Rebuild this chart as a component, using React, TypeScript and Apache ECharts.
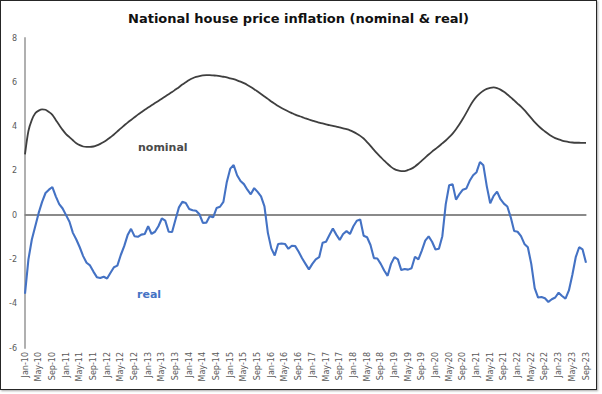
import React, { useEffect, useRef } from "react";
import * as echarts from "echarts";

const MONTHS = ["Jan", "Feb", "Mar", "Apr", "May", "Jun", "Jul", "Aug", "Sep", "Oct", "Nov", "Dec"];
const YEARS = [10, 11, 12, 13, 14, 15, 16, 17, 18, 19, 20, 21, 22, 23];
const LAST_MONTH_2023 = 9;

const categories: string[] = [];
YEARS.forEach((y) => {
  MONTHS.forEach((m, i) => {
    if (y === 23 && i >= LAST_MONTH_2023) return;
    categories.push(`${m}-${y}`);
  });
});

const nominal = [
  2.74, 3.8, 4.3, 4.6, 4.72, 4.78, 4.76, 4.66, 4.53, 4.3, 4.07, 3.85,
  3.66, 3.52, 3.38, 3.25, 3.16, 3.1, 3.08, 3.08, 3.1, 3.15, 3.22, 3.3,
  3.4, 3.52, 3.64, 3.78, 3.92, 4.05, 4.18, 4.3, 4.42, 4.54, 4.65, 4.76,
  4.86, 4.96, 5.06, 5.16, 5.26, 5.36, 5.46, 5.56, 5.67, 5.78, 5.9, 6.0,
  6.1, 6.18, 6.24, 6.28, 6.31, 6.32, 6.32, 6.31, 6.3, 6.28, 6.25, 6.22,
  6.18, 6.14, 6.09, 6.03, 5.96, 5.88, 5.79, 5.69, 5.58, 5.47, 5.36, 5.25,
  5.13, 5.03, 4.93, 4.84, 4.76, 4.68, 4.61, 4.54, 4.48, 4.43, 4.37, 4.32,
  4.27, 4.22, 4.18, 4.14, 4.1, 4.06, 4.03, 4.0, 3.96, 3.92, 3.88, 3.83,
  3.76, 3.68, 3.58, 3.46, 3.3, 3.13, 2.95, 2.78, 2.62, 2.46, 2.32, 2.18,
  2.08, 2.02, 1.99, 1.99, 2.04, 2.1, 2.2, 2.32, 2.46, 2.6, 2.74, 2.87,
  2.99, 3.11, 3.24, 3.37, 3.52, 3.68, 3.88, 4.1, 4.35, 4.62, 4.9, 5.15,
  5.35, 5.5, 5.62, 5.7, 5.75, 5.77, 5.74, 5.67, 5.57, 5.45, 5.32, 5.18,
  5.04, 4.9, 4.74, 4.56, 4.38, 4.2, 4.04, 3.9, 3.78, 3.66, 3.56, 3.48,
  3.42, 3.37, 3.33, 3.3, 3.28, 3.27, 3.27, 3.26, 3.26,
];

const real = [
  -3.55, -2.0, -1.1, -0.5, 0.1, 0.6, 1.0, 1.15, 1.27, 0.85, 0.5, 0.3,
  0.0, -0.3, -0.8, -1.1, -1.45, -1.85, -2.15, -2.27, -2.55, -2.8, -2.84, -2.78,
  -2.86, -2.6, -2.35, -2.28, -1.8, -1.4, -0.9, -0.62, -0.95, -0.98, -0.88, -0.85,
  -0.5, -0.85, -0.75, -0.5, -0.15, -0.25, -0.75, -0.76, -0.2, 0.35, 0.6, 0.55,
  0.28, 0.22, 0.2, 0.04, -0.35, -0.34, -0.05, -0.1, 0.32, 0.38, 0.6, 1.5,
  2.1, 2.26, 1.8, 1.54, 1.4, 1.15, 0.94, 1.22, 1.05, 0.85, 0.4, -0.8,
  -1.5, -1.82, -1.3, -1.28, -1.3, -1.52, -1.38, -1.4, -1.65, -1.95, -2.2, -2.45,
  -2.2, -2.0, -1.9, -1.25, -1.2, -0.9, -0.6, -0.88, -1.12, -0.85, -0.72, -0.85,
  -0.5, -0.25, -0.2, -0.93, -1.0, -1.35, -1.94, -1.96, -2.2, -2.5, -2.74, -2.2,
  -1.9, -2.0, -2.48, -2.43, -2.46, -2.4, -1.88, -2.0, -1.6, -1.15, -0.96, -1.2,
  -1.55, -1.52, -0.95, 0.5, 1.35, 1.4, 0.7, 0.95, 1.15, 1.2, 1.55, 1.8,
  1.94, 2.4, 2.25, 1.3, 0.54, 0.87, 1.06, 0.72, 0.52, 0.39, -0.1, -0.72,
  -0.75, -0.95, -1.3, -1.45, -2.2, -3.3, -3.72, -3.7, -3.75, -3.92, -3.8, -3.72,
  -3.5, -3.65, -3.77, -3.4, -2.7, -1.9, -1.45, -1.55, -2.15,
];

const TITLE = "National house price inflation (nominal & real)";
const FONT = "'DejaVu Sans', Lato, sans-serif";

export default function App() {
  const ref = useRef<HTMLDivElement>(null);
  useEffect(() => {
    if (!ref.current) return;
    const chart = echarts.init(ref.current, undefined, { renderer: "svg" });
    chart.setOption({
      animation: false,
      backgroundColor: "#ffffff",
      textStyle: { fontFamily: FONT },
      title: {
        text: TITLE,
        left: "center",
        top: 6,
        textStyle: { fontSize: 13, fontWeight: "bold", color: "#111111", fontFamily: FONT },
      },
      grid: { left: 24, right: 10, top: 37, bottom: 41 },
      xAxis: {
        type: "category",
        data: categories,
        boundaryGap: false,
        axisLine: { show: true, lineStyle: { color: "#8c8c8c", width: 1.5 } },
        axisTick: { show: false },
        axisLabel: {
          rotate: 90,
          interval: 3,
          fontSize: 8,
          color: "#595959",
          margin: 4,
          fontFamily: FONT,
        },
        splitLine: { show: false },
      },
      yAxis: {
        type: "value",
        min: -6,
        max: 8,
        interval: 2,
        axisLine: { show: true, lineStyle: { color: "#b0b0b0", width: 2 } },
        axisTick: { show: false },
        axisLabel: { fontSize: 8, color: "#595959", margin: 8, fontFamily: FONT },
        splitLine: { show: false },
      },
      series: [
        {
          name: "nominal",
          type: "line",
          data: nominal,
          symbol: "none",
          smooth: 0.3,
          lineStyle: { color: "#3f3f3f", width: 1.8 },
          itemStyle: { color: "#3f3f3f" },
          z: 3,
        },
        {
          name: "real",
          type: "line",
          data: real,
          symbol: "none",
          lineStyle: { color: "#4472c4", width: 2.1 },
          itemStyle: { color: "#4472c4" },
          z: 4,
          markLine: {
            silent: true,
            symbol: ["none", "none"],
            label: { show: false },
            lineStyle: { color: "#808080", width: 1.5, type: "solid" },
            data: [{ yAxis: 0 }],
            z: 2,
          },
        },
      ],
      graphic: [
        {
          type: "text",
          left: 137,
          top: 141,
          style: { text: "nominal", fontSize: 11, fontWeight: "bold", fill: "#4a4a4a", fontFamily: FONT },
        },
        {
          type: "text",
          left: 136,
          top: 288,
          style: { text: "real", fontSize: 11, fontWeight: "bold", fill: "#4472c4", fontFamily: FONT },
        },
      ],
    });
    return () => chart.dispose();
  }, []);

  return (
    <div style={{ position: "absolute", left: 0, top: 0, width: 602, height: 394, background: "#ffffff" }}>
      <div
        style={{
          position: "absolute",
          left: 0,
          top: 0,
          width: 595,
          height: 388,
          border: "1.5px solid #262626",
          boxShadow: "1px 1px 2px rgba(0,0,0,0.35)",
          background: "#ffffff",
        }}
      >
        <div ref={ref} style={{ width: 595, height: 388 }} />
      </div>
    </div>
  );
}
